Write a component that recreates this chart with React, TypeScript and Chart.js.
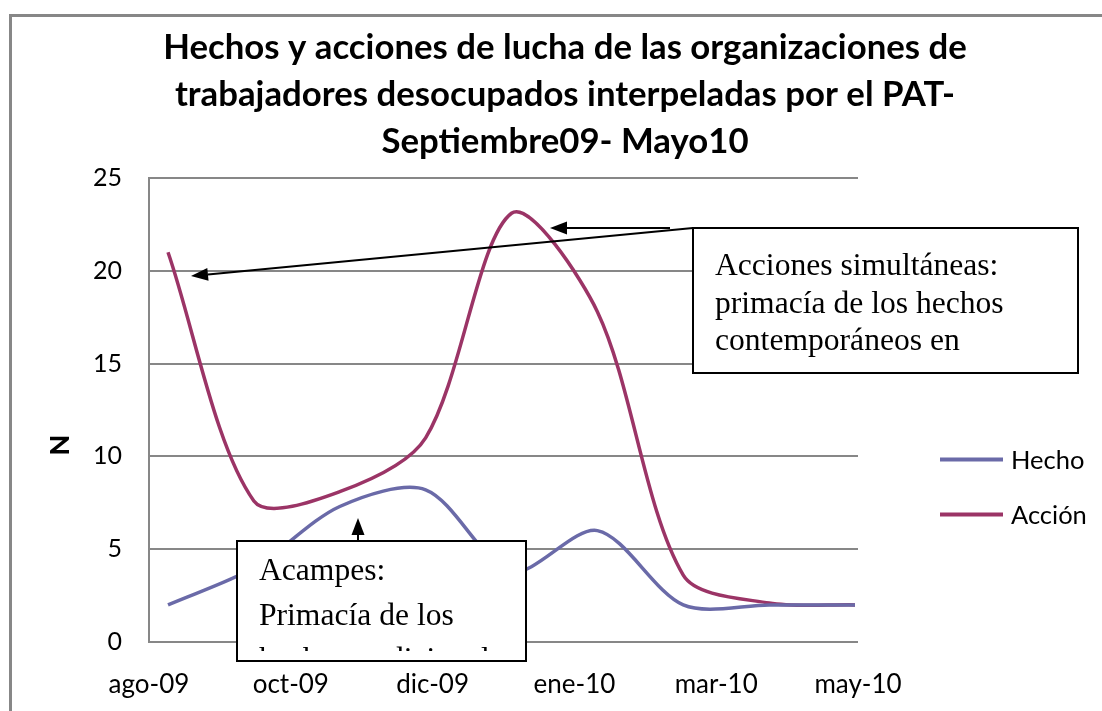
import React, { useEffect, useRef } from 'react';
import { Chart, registerables } from 'chart.js';

Chart.register(...registerables);

// ---------- data ----------
const titleLines = [
  'Hechos y acciones de lucha de las organizaciones de',
  'trabajadores desocupados interpeladas por el PAT-',
  'Septiembre09- Mayo10',
];
const months = ['sep-09', 'oct-09', 'nov-09', 'dic-09', 'ene-10', 'feb-10', 'mar-10', 'abr-10', 'may-10'];
const hecho = [2, 4, 7.3, 8.2, 3.8, 6, 2, 2, 2];
const accion = [21, 7.6, 8.1, 11, 23.1, 17.8, 3.6, 2.1, 2];
const seriesNames = ['Hecho', 'Acción'];
const xTickLabels = ['ago-09', 'oct-09', 'dic-09', 'ene-10', 'mar-10', 'may-10'];
const yTicks = [0, 5, 10, 15, 20, 25];
const yAxisTitle = 'N';
const box1Lines = ['Acciones simultáneas:', 'primacía de los hechos', 'contemporáneos en'];
const box2Lines = ['Acampes:', 'Primacía de los', 'hechos tradicionales'];

// ---------- styles ----------
const HECHO_COLOR = '#6A6AA8';
const ACCION_COLOR = '#9B3466';
const GRID_COLOR = '#878787';
const SANS = 'Lato, "Open Sans", sans-serif';
const SERIF = '"Liberation Serif", "Times New Roman", serif';

function drawArrow(ctx: CanvasRenderingContext2D, x1: number, y1: number, x2: number, y2: number) {
  const ang = Math.atan2(y2 - y1, x2 - x1);
  const len = 17;
  const hw = 6.5;
  const bx = x2 - len * Math.cos(ang);
  const by = y2 - len * Math.sin(ang);
  ctx.beginPath();
  ctx.moveTo(x1, y1);
  ctx.lineTo(bx, by);
  ctx.lineWidth = 2;
  ctx.strokeStyle = '#000';
  ctx.stroke();
  ctx.beginPath();
  ctx.moveTo(x2, y2);
  ctx.lineTo(bx + hw * Math.sin(ang), by - hw * Math.cos(ang));
  ctx.lineTo(bx - hw * Math.sin(ang), by + hw * Math.cos(ang));
  ctx.closePath();
  ctx.fillStyle = '#000';
  ctx.fill();
}

function drawTextBox(
  ctx: CanvasRenderingContext2D,
  l: number, t: number, r: number, b: number,
  lines: string[], textX: number, firstBaseline: number, lineGap: number, clipBottom: number,
) {
  ctx.save();
  ctx.fillStyle = '#fff';
  ctx.fillRect(l, t, r - l, b - t);
  ctx.save();
  ctx.beginPath();
  ctx.rect(l, t, r - l, clipBottom - t);
  ctx.clip();
  ctx.fillStyle = '#000';
  ctx.font = `31.6px ${SERIF}`;
  ctx.textAlign = 'left';
  ctx.textBaseline = 'alphabetic';
  lines.forEach((ln, i) => ctx.fillText(ln, textX, firstBaseline + i * lineGap));
  ctx.restore();
  ctx.lineWidth = 2;
  ctx.strokeStyle = '#000';
  ctx.strokeRect(l, t, r - l, b - t);
  ctx.restore();
}

const extrasPlugin = {
  id: 'extras',
  beforeDraw(chart: any) {
    const ctx: CanvasRenderingContext2D = chart.ctx;
    ctx.save();
    ctx.fillStyle = '#fff';
    ctx.fillRect(0, 0, chart.width, chart.height);
    ctx.strokeStyle = GRID_COLOR;
    ctx.lineWidth = 3;
    ctx.strokeRect(10.5, 15.5, 1300, 900);
    ctx.restore();
  },
  afterDraw(chart: any) {
    const ctx: CanvasRenderingContext2D = chart.ctx;
    ctx.save();
    // title
    ctx.font = `bold 100px ${SANS}`;
    const w0 = ctx.measureText(titleLines[0]).width;
    const tSize = (100 * 804) / w0;
    ctx.font = `bold ${tSize}px ${SANS}`;
    ctx.fillStyle = '#000';
    ctx.textAlign = 'center';
    ctx.textBaseline = 'alphabetic';
    const tBase = [58.5, 105.5, 152.5];
    titleLines.forEach((ln, i) => ctx.fillText(ln, 565, tBase[i]));

    // y axis title
    ctx.save();
    ctx.translate(60, 445);
    ctx.rotate(-Math.PI / 2);
    ctx.font = `900 27px ${SANS}`;
    ctx.textAlign = 'center';
    ctx.textBaseline = 'middle';
    ctx.fillText(yAxisTitle, 0, 0);
    ctx.restore();

    // legend
    const legendColors = [HECHO_COLOR, ACCION_COLOR];
    const legendY = [459.5, 514.5];
    seriesNames.forEach((name, i) => {
      ctx.beginPath();
      ctx.moveTo(940, legendY[i]);
      ctx.lineTo(1003, legendY[i]);
      ctx.strokeStyle = legendColors[i];
      ctx.lineWidth = 4;
      ctx.stroke();
      ctx.font = `25.5px ${SANS}`;
      ctx.fillStyle = '#000';
      ctx.textAlign = 'left';
      ctx.textBaseline = 'middle';
      ctx.fillText(name, 1011, legendY[i] + 1);
    });

    // arrows
    drawArrow(ctx, 693, 228, 191, 276);
    drawArrow(ctx, 670, 228, 550, 228);
    drawArrow(ctx, 358, 541, 358, 518);

    // boxes
    drawTextBox(ctx, 693, 228, 1078, 373, box1Lines, 715, 275, 37.5, 371);
    drawTextBox(ctx, 237, 541, 526, 661, box2Lines, 259, 580, 44.5, 651);
    ctx.restore();
  },
};

export default function App() {
  const ref = useRef<HTMLCanvasElement>(null);
  useEffect(() => {
    if (!ref.current) return;
    const yFont = { family: SANS, size: 25 };
    const xFont = { family: SANS, size: 26 };
    const chart = new Chart(ref.current, {
      type: 'line',
      data: {
        datasets: [
          {
            label: seriesNames[0],
            data: hecho.map((v, i) => ({ x: i, y: v })),
            xAxisID: 'xm',
            borderColor: HECHO_COLOR,
            borderWidth: 3.5,
            pointRadius: 0,
            tension: 0.3,
            fill: false,
          },
          {
            label: seriesNames[1],
            data: accion.map((v, i) => ({ x: i, y: v })),
            xAxisID: 'xm',
            borderColor: ACCION_COLOR,
            borderWidth: 3.5,
            pointRadius: 0,
            tension: 0.3,
            fill: false,
          },
        ],
      },
      options: {
        responsive: false,
        animation: false,
        devicePixelRatio: 1,
        layout: { padding: { left: 0, top: 178, right: 244, bottom: 9 } },
        plugins: {
          legend: { display: false },
          title: { display: false },
          tooltip: { enabled: false },
        },
        scales: {
          x: {
            type: 'linear',
            position: 'bottom',
            min: 0,
            max: xTickLabels.length - 1,
            afterBuildTicks: (s: any) => {
              s.ticks = xTickLabels.map((_, i) => ({ value: i }));
            },
            ticks: {
              callback: (v: any) => xTickLabels[Math.round(Number(v))],
              font: xFont,
              color: '#000',
              padding: 27,
              maxRotation: 0,
              autoSkip: false,
            },
            grid: { display: false, drawTicks: false },
            border: { display: false },
            afterFit: (s: any) => {
              s.height = 60;
            },
          },
          xm: {
            type: 'linear',
            display: false,
            min: -0.2213,
            max: months.length - 1 + 0.035,
          },
          y: {
            type: 'linear',
            min: 0,
            max: 25,
            afterBuildTicks: (s: any) => {
              s.ticks = yTicks.map((v) => ({ value: v }));
            },
            ticks: { font: yFont, color: '#000', padding: 27 },
            grid: { color: GRID_COLOR, lineWidth: 2, drawTicks: false },
            border: { display: true, color: GRID_COLOR, width: 2 },
            afterFit: (s: any) => {
              s.width = 149;
            },
          },
        },
      },
      plugins: [extrasPlugin],
    });
    return () => chart.destroy();
  }, []);
  return (
    <div style={{ position: 'fixed', left: 0, top: 0, width: 1102, height: 711, background: '#fff' }}>
      <canvas ref={ref} width={1102} height={711} style={{ display: 'block', width: 1102, height: 711 }} />
    </div>
  );
}
